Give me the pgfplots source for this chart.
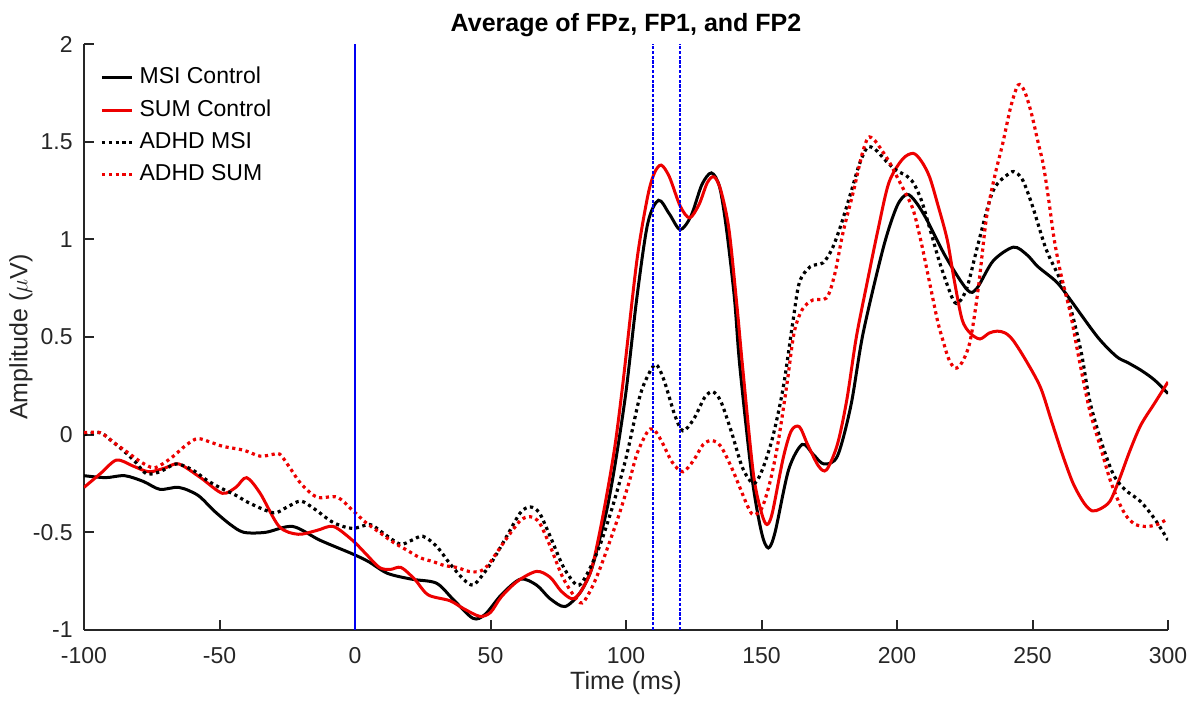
\documentclass[border=0pt]{standalone}
\usepackage{fontspec}
\setmainfont{Liberation Sans}
\usepackage{pgfplots}
\pgfplotsset{compat=1.18}
\definecolor{axgray}{rgb}{0.15,0.15,0.15}
\definecolor{mred}{rgb}{0.93,0,0}
\definecolor{mblue}{rgb}{0,0,0.95}
\begin{document}
\begin{tikzpicture}
\begin{axis}[
  name=ax,
  scale only axis, width=542pt, height=293pt,
  xmin=-100, xmax=300, ymin=-1, ymax=2,
  xtick={-100,-50,0,50,100,150,200,250,300},
  ytick={-1,-0.5,0,0.5,1,1.5,2},
  axis x line*=bottom, axis y line*=left,
  axis line style={-, axgray, line width=1.1pt},
  tick align=inside,
  major tick length=5pt,
  tick style={axgray, line width=1pt},
  /pgf/number format/assume math mode=true,
  ticklabel style={font=\fontsize{11.5}{13}\selectfont, text=axgray, inner sep=0pt},
  xticklabel style={anchor=base, yshift=-17pt},
  yticklabel style={anchor=east, xshift=-5.5pt},
  title={Average of FPz, FP1, and FP2},
  title style={at={(0.5,1)}, anchor=base, inner sep=0pt, font=\bfseries\fontsize{12.5}{14}\selectfont},
  xlabel={Time (ms)},
  xlabel style={at={(0.5,0)}, anchor=base, yshift=-30pt, inner sep=0pt, font=\fontsize{12.5}{14}\selectfont, text=axgray},
  ylabel={Amplitude ($\mu$V)},
  ylabel style={at={(0,0.5)}, anchor=center, yshift=31.5pt, inner sep=0pt, font=\fontsize{12.5}{14}\selectfont, text=axgray},
  legend cell align=left,
  legend image code/.code={\draw[#1] (0pt,0pt) -- (15pt,0pt);},
  legend style={draw=none, fill=none, at={(0,1)}, anchor=north west, xshift=8pt, yshift=-11.5pt,
    font=\fontsize{11.5}{13}\selectfont, inner sep=0pt, row sep=5.55pt, column sep=3pt,
    nodes={inner sep=0pt, text height=8.2pt, text depth=2.4pt}},
]
% MSI Control
\addplot[black, line width=1.5pt, smooth] coordinates {
(-100,-0.21) (-92,-0.22) (-85,-0.21) (-78,-0.24) (-72,-0.28) (-65,-0.27) (-58,-0.31) (-52,-0.39) (-46,-0.46) (-41,-0.50) (-33,-0.50) (-23,-0.47) (-13,-0.54) (-1,-0.61) (5,-0.65) (12,-0.71) (21,-0.74) (30,-0.76) (36,-0.84) (43.5,-0.94) (48,-0.92) (54,-0.82) (61,-0.74) (67,-0.77) (72,-0.84) (77.5,-0.88) (83,-0.81) (87,-0.70) (90,-0.55) (93,-0.38) (96,-0.15) (100,0.22) (104,0.70) (108,1.08) (112,1.20) (116,1.13) (120,1.05) (124,1.12) (128,1.28) (131.5,1.34) (134.5,1.27) (137,1.06) (140,0.70) (142,0.35) (146.5,-0.22) (150,-0.50) (152.5,-0.58) (155,-0.50) (160,-0.18) (165,-0.05) (169,-0.10) (173,-0.15) (178,-0.11) (183,0.15) (187.5,0.52) (195,0.96) (200,1.17) (203.7,1.23) (207,1.19) (211,1.10) (218,0.91) (226,0.74) (229.5,0.75) (235.5,0.89) (243,0.96) (248,0.92) (252,0.86) (259,0.78) (264,0.69) (274,0.50) (281,0.40) (285,0.37) (290,0.33) (295,0.28) (300,0.21)
};
\addlegendentry{MSI Control}
% SUM Control
\addplot[mred, line width=1.5pt, smooth] coordinates {
(-100,-0.27) (-94,-0.20) (-88,-0.13) (-82,-0.16) (-76,-0.19) (-70,-0.17) (-65,-0.15) (-57,-0.22) (-49,-0.30) (-44,-0.27) (-40,-0.22) (-35,-0.30) (-28,-0.47) (-21,-0.51) (-14,-0.49) (-8,-0.47) (-1,-0.54) (4,-0.61) (9,-0.68) (13,-0.69) (17,-0.68) (22,-0.74) (27,-0.82) (35,-0.85) (40,-0.89) (46,-0.93) (50,-0.91) (54,-0.83) (60,-0.75) (67,-0.70) (72,-0.73) (76,-0.80) (80,-0.84) (83,-0.81) (87,-0.70) (90,-0.52) (93,-0.30) (96,-0.05) (99,0.28) (104,0.89) (108,1.22) (110.5,1.34) (113,1.38) (116,1.32) (120,1.17) (123.5,1.11) (127,1.18) (130,1.29) (132.5,1.32) (135,1.25) (138,1.05) (141,0.65) (143,0.35) (147,-0.20) (150,-0.40) (152,-0.46) (154,-0.40) (158,-0.12) (161,0.02) (164,0.04) (167,-0.05) (171,-0.16) (174,-0.18) (178,-0.05) (181.5,0.18) (185,0.50) (189,0.78) (193,1.05) (197,1.29) (202,1.41) (206,1.44) (209,1.40) (212,1.32) (215,1.18) (218.5,1.00) (221,0.80) (224,0.59) (227,0.52) (230.6,0.49) (234,0.52) (237,0.53) (240,0.52) (243,0.48) (248,0.37) (253,0.24) (257,0.07) (261,-0.10) (265,-0.25) (269,-0.35) (272,-0.39) (275,-0.38) (278.6,-0.34) (282,-0.23) (286,-0.08) (290,0.05) (295,0.16) (300,0.27)
};
\addlegendentry{SUM Control}
% ADHD MSI
\addplot[black, line width=1.6pt, dash pattern=on 1.6pt off 1.8pt, smooth] coordinates {
(-100,0.0) (-94,0.01) (-90,-0.03) (-85.6,-0.08) (-81,-0.14) (-77,-0.20) (-72,-0.19) (-66,-0.15) (-60,-0.18) (-55,-0.23) (-50,-0.27) (-44,-0.31) (-39,-0.35) (-30,-0.40) (-25,-0.37) (-20,-0.34) (-15,-0.38) (-8,-0.45) (-1,-0.48) (5.5,-0.46) (10,-0.50) (16.6,-0.56) (21,-0.54) (25,-0.52) (30,-0.57) (35,-0.66) (40,-0.74) (43.5,-0.77) (47,-0.72) (51,-0.64) (56,-0.52) (61,-0.40) (64.6,-0.37) (68,-0.40) (72,-0.52) (77,-0.68) (81.9,-0.77) (85,-0.73) (90,-0.58) (95,-0.37) (100,-0.12) (105,0.19) (108,0.30) (111,0.36) (114,0.28) (118,0.10) (121,0.02) (125,0.08) (129,0.19) (132,0.22) (135,0.17) (139,0.01) (143,-0.17) (147,-0.25) (150,-0.19) (154,-0.02) (158,0.24) (161.6,0.58) (164,0.78) (168,0.86) (172.7,0.88) (176,0.95) (179,1.06) (183,1.24) (186,1.38) (189,1.47) (192,1.46) (196,1.40) (200,1.35) (203,1.33) (206,1.29) (209,1.20) (212,1.06) (216,0.87) (220.7,0.69) (223,0.68) (226,0.76) (230,0.98) (235.5,1.25) (241.7,1.34) (244,1.34) (246.5,1.30) (250,1.17) (255,0.95) (260,0.80) (264,0.65) (268,0.42) (271,0.18) (275,-0.02) (279.7,-0.20) (284,-0.28) (289.7,-0.34) (295,-0.43) (300,-0.54)
};
\addlegendentry{ADHD MSI}
% ADHD SUM
\addplot[mred, line width=1.6pt, dash pattern=on 1.6pt off 1.8pt, smooth] coordinates {
(-100,0.01) (-94,0.01) (-89,-0.04) (-84,-0.09) (-79,-0.14) (-74.5,-0.17) (-71,-0.15) (-67,-0.11) (-62,-0.05) (-58,-0.02) (-53,-0.04) (-48.7,-0.06) (-41,-0.08) (-35,-0.11) (-30,-0.10) (-27.7,-0.10) (-24,-0.17) (-20,-0.25) (-14,-0.32) (-6.6,-0.32) (-0.7,-0.39) (4,-0.45) (9,-0.50) (14,-0.55) (19,-0.59) (24,-0.63) (28.8,-0.65) (33,-0.67) (37.6,-0.68) (42,-0.70) (46,-0.70) (49,-0.67) (52,-0.61) (56,-0.53) (61,-0.44) (64.6,-0.42) (68,-0.45) (72,-0.57) (77,-0.74) (83,-0.86) (86,-0.82) (90,-0.70) (96.7,-0.44) (101,-0.25) (104,-0.10) (107.7,0.01) (110,0.03) (113,-0.03) (117,-0.14) (121,-0.19) (125,-0.13) (128.5,-0.05) (131.7,-0.03) (135,-0.06) (139,-0.17) (142,-0.27) (145,-0.37) (147,-0.41) (150,-0.38) (153,-0.25) (156,-0.05) (159.4,0.26) (162,0.52) (165,0.64) (169,0.69) (174,0.70) (177,0.82) (180,1.03) (184,1.25) (187,1.43) (189.3,1.52) (191.5,1.51) (193.7,1.47) (197,1.40) (200,1.32) (203,1.24) (206,1.15) (209,0.98) (212,0.78) (215,0.58) (217,0.48) (219,0.39) (221.4,0.34) (224,0.37) (227,0.48) (230,0.75) (233,1.11) (236,1.32) (239,1.49) (242,1.68) (244.7,1.79) (247,1.76) (249.5,1.65) (252,1.50) (254,1.38) (256,1.20) (258,1.00) (260.5,0.82) (264,0.62) (267,0.40) (271,0.13) (275,-0.06) (278.6,-0.23) (282,-0.35) (284.8,-0.42) (288,-0.46) (292,-0.47) (296,-0.46) (300,-0.43)
};
\addlegendentry{ADHD SUM}
% stimulus / window markers
\addplot[mblue, line width=1.1pt, forget plot] coordinates {(0,-1) (0,2)};
\addplot[mblue, line width=1pt, dash pattern=on 1.6pt off 0.8pt, forget plot] coordinates {(110,-1) (110,2)};
\addplot[mblue, line width=1pt, dash pattern=on 1.6pt off 0.8pt, forget plot] coordinates {(120,-1) (120,2)};
\end{axis}
\pgfresetboundingbox
\path[use as bounding box] ([xshift=-42pt,yshift=-37pt]ax.south west) rectangle ([xshift=559pt,yshift=315pt]ax.south west);
\end{tikzpicture}
\end{document}
